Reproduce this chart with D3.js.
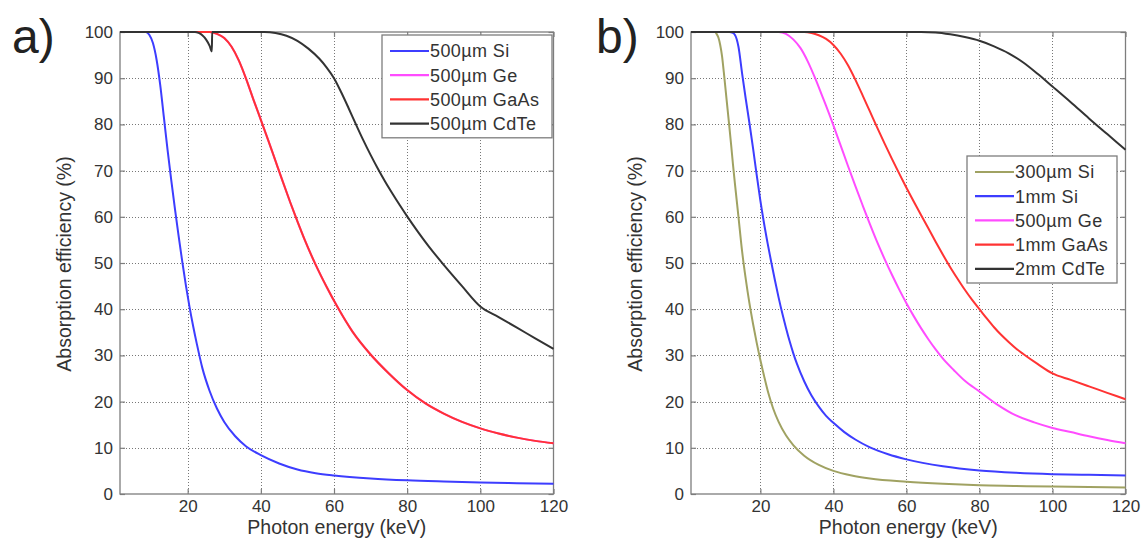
<!doctype html>
<html lang="en">
<head>
<meta charset="utf-8">
<title>Absorption efficiency</title>
<style>
html, body {
	margin: 0;
	padding: 0;
	background: #fff;
}
svg {
	display: block;
	font-family: 'Liberation Sans', Arial, sans-serif;
}
.grid line {
	stroke: #777;
	stroke-width: 1;
	stroke-dasharray: 1, 2;
	shape-rendering: crispEdges;
}
.frame {
	fill: none;
	stroke: #7d7d7d;
	stroke-width: 1.3;
}
.axis path { display: none; }
.axis line { stroke: #7d7d7d; stroke-width: 1.2; }
.axis text { fill: #333; font-size: 17px; }
.title { fill: #333; font-size: 19.5px; }
.panel-label { fill: #222; font-size: 48px; }
.curve {
	fill: none;
	stroke-width: 2;
	stroke-linejoin: round;
}
.legend rect { fill: #fff; stroke: #7d7d7d; stroke-width: 1.3; }
.legend text { fill: #333; font-size: 18px; letter-spacing: 0.4px; }
</style>
</head>
<body>
<div id="container"></div>
<script src="https://cdnjs.cloudflare.com/ajax/libs/d3/7.8.5/d3.min.js"></script>
<script>
/* DATA : [photon energy keV, absorption efficiency %] */

var X_TICKS = [20, 40, 60, 80, 100, 120];
var Y_TICKS = [0, 10, 20, 30, 40, 50, 60, 70, 80, 90, 100];

// panel a)
var si500 = [[1.5,100],[8.5,100],[9.5,99.4],[10.5,97.6],[11.5,94],[12.5,88.5],[13.5,81.5],[14.5,74.5],[15.5,68],[16.5,61.8],[17.5,56],[18.5,50.4],[19.5,45.2],[20.5,40.5],[21.5,36.3],[22.5,32.5],[24,27.3],[26,22.3],[28,18.5],[30,15.6],[33,12.5],[36,10.3],[40,8.4],[45,6.6],[50,5.3],[55,4.5],[60,4],[70,3.35],[80,2.95],[90,2.7],[100,2.5],[110,2.35],[120,2.2]];
var gaas500 = [[1.5,100],[26,100],[28,99.6],[30,98.7],[32,96.8],[34,93.8],[36,89.8],[38,85.3],[40,81],[42,76.6],[44,72.1],[46,67.6],[48,63.2],[50,59],[52,55],[55,49.6],[58,44.8],[61,40.4],[65,35.2],[70,30.2],[75,26.1],[80,22.5],[85,19.6],[90,17.4],[95,15.6],[100,14.2],[105,13.1],[110,12.2],[115,11.5],[120,11]];
var ge500a = gaas500; // Ge lies under GaAs in a), no magenta shows
var cdte500 = [[1.5,100],[22,100],[23,99.8],[24,99.3],[25,98.4],[26,97],[26.6,95.8],[26.7,100],[41,100],[44,99.8],[47,99.2],[50,98.1],[53,96.4],[56,94.2],[58,92.3],[60,90],[62,86.9],[64,83.5],[66,80],[68,76.6],[70,73.4],[72,70.4],[74,67.6],[76,65],[78,62.5],[80,60.1],[83,56.7],[86,53.5],[90,49.6],[95,45],[100,40.6],[105,38.3],[110,36],[115,33.7],[120,31.4]];

// panel b)
var si300 = [[1,100],[7.5,100],[8,99.6],[8.5,98.8],[9,97.2],[9.5,94.8],[10,91.2],[10.5,87.3],[11,83.4],[11.5,79.5],[12,75.5],[12.5,71.3],[13,67.4],[14,60],[15,52.5],[16,46.5],[17,41.3],[18,36.8],[19,32.7],[20,29],[21,25.6],[22.2,21.8],[23.5,18.5],[25,15.6],[27,12.7],[29,10.6],[32,8.3],[36,6.3],[40,5],[45,4],[50,3.35],[60,2.65],[70,2.2],[80,1.9],[90,1.75],[100,1.6],[110,1.5],[120,1.4]];
var si1mm = [[1,100],[11.5,100],[12.5,99.8],[13,99.4],[13.5,98.5],[14,96.8],[15,91],[16,85.5],[17,80.3],[18,74.8],[19,69],[20,63.5],[21,58.6],[22,54.2],[23,50.1],[24,46.2],[25,42.5],[26,39.1],[27,36],[28,33.1],[29,30.5],[30,28.2],[32,24.4],[34,21.3],[36,18.9],[38,16.9],[40,15.4],[43,13.4],[46,11.8],[50,10.1],[55,8.6],[60,7.5],[70,6],[80,5.1],[90,4.6],[100,4.3],[110,4.15],[120,4]];
var ge500b = [[1,100],[25,100],[27,99.6],[29,98.4],[31,96.5],[33,93.6],[35,90],[37,86],[38,84],[40,79.8],[42,75.4],[44,71],[46,66.7],[48,62.5],[50,58.4],[52,54.5],[54,50.9],[56,47.5],[58,44.3],[60,41.3],[62,38.5],[64,35.9],[66,33.5],[68,31.3],[70,29.3],[73,26.8],[76,24.5],[80,22.2],[85,19.3],[90,17],[95,15.5],[100,14.3],[105,13.4],[110,12.5],[115,11.7],[120,11]];
var gaas1mm = [[1,100],[32,100],[34,99.8],[36,99.3],[38,98.5],[40,97.2],[42,95.3],[44,92.8],[46,89.7],[48,86.3],[50,82.8],[52,79.3],[54,75.9],[56,72.6],[58,69.4],[60,66.3],[62,63.3],[64,60.4],[66,57.5],[68,54.6],[70,51.8],[72,49.1],[74,46.6],[76,44.2],[78,42],[80,40],[82,38],[84,36.1],[86,34.4],[88,32.9],[90,31.5],[92,30.3],[96,28.1],[100,26.1],[105,24.7],[110,23.3],[115,21.9],[120,20.5]];
var cdte2mm = [[1,100],[64,100],[68,99.9],[72,99.5],[76,98.9],[80,98.1],[84,96.9],[88,95.4],[92,93.4],[96,90.9],[100,88.2],[105,84.8],[110,81.3],[115,77.9],[120,74.5]];

var LEGEND_A = ['500\u00b5m Si', '500\u00b5m Ge', '500\u00b5m GaAs', '500\u00b5m CdTe'];
var LEGEND_B = ['300\u00b5m Si', '1mm Si', '500\u00b5m Ge', '1mm GaAs', '2mm CdTe'];

(function ($d3) {

	'use strict';

	/* CONST */

	var W = 1147, H = 542;
	var TOP = 32, BOTTOM = 494;
	var TICK = 5;

	var COL = {
		si: '#3d3dff',
		ge: '#ff4cff',
		gaas: '#ff3333',
		cdte: '#333333',
		olive: '#a0a262'
	};

	var panels = [
		{
			label: 'a)', labelX: 12,
			left: 120, right: 553.5, xMin: 1.5,
			yTitleX: 71,
			series: [
				{ v: si500, c: COL.si },
				{ v: ge500a, c: COL.ge },
				{ v: gaas500, c: COL.gaas },
				{ v: cdte500, c: COL.cdte }
			],
			legend: { names: LEGEND_A, colors: [COL.si, COL.ge, COL.gaas, COL.cdte], x: 382, y: 35, w: 170 }
		},
		{
			label: 'b)', labelX: 596,
			left: 691, right: 1125.5, xMin: 1,
			yTitleX: 642,
			series: [
				{ v: si300, c: COL.olive },
				{ v: si1mm, c: COL.si },
				{ v: ge500b, c: COL.ge },
				{ v: gaas1mm, c: COL.gaas },
				{ v: cdte2mm, c: COL.cdte }
			],
			legend: { names: LEGEND_B, colors: [COL.olive, COL.si, COL.ge, COL.gaas, COL.cdte], x: 967, y: 156, w: 150 }
		}
	];

	var svg = $d3.select('#container').append('svg')
		.attr('width', W)
		.attr('height', H);

	/* RENDER */

	var drawLegend = function (g, lg) {
		var rowH = 24.2;
		var box = g.append('g').attr('class', 'legend');
		box.append('rect')
			.attr('x', lg.x)
			.attr('y', lg.y)
			.attr('width', lg.w)
			.attr('height', lg.names.length * rowH + 6);
		var rows = box.selectAll('g.row')
			.data(lg.names)
			.enter().append('g')
			.attr('transform', function (d, i) {
				return 'translate(' + lg.x + ',' + (lg.y + 16 + i * rowH) + ')';
			});
		rows.append('line')
			.attr('x1', 8).attr('x2', 47)
			.attr('y1', 0).attr('y2', 0)
			.attr('stroke', function (d, i) { return lg.colors[i]; })
			.attr('stroke-width', 2.2);
		rows.append('text')
			.attr('x', 48)
			.attr('dy', '0.36em')
			.text(function (d) { return d; });
	};

	var drawPanel = function (p) {
		var g = svg.append('g');
		var x = $d3.scaleLinear().domain([p.xMin, 120]).range([p.left, p.right]);
		var y = $d3.scaleLinear().domain([0, 100]).range([BOTTOM, TOP]);
		var rx = function (d) { return Math.round(x(d)) + 0.5; };
		var ry = function (d) { return Math.round(y(d)) + 0.5; };

		// dotted grid
		var grid = g.append('g').attr('class', 'grid');
		grid.selectAll('line.v')
			.data(X_TICKS.filter(function (d) { return d < 120; }))
			.enter().append('line')
			.attr('x1', rx).attr('x2', rx)
			.attr('y1', TOP).attr('y2', BOTTOM);
		grid.selectAll('line.h')
			.data(Y_TICKS.filter(function (d) { return d > 0 && d < 100; }))
			.enter().append('line')
			.attr('x1', p.left).attr('x2', p.right)
			.attr('y1', ry).attr('y2', ry);

		// ticks on all four sides, pointing in
		g.append('g').attr('class', 'axis')
			.attr('transform', 'translate(0,' + BOTTOM + ')')
			.call($d3.axisBottom(x).tickValues(X_TICKS).tickSize(-TICK).tickPadding(6));
		g.append('g').attr('class', 'axis')
			.attr('transform', 'translate(0,' + TOP + ')')
			.call($d3.axisTop(x).tickValues(X_TICKS).tickSize(-TICK).tickFormat(''));
		g.append('g').attr('class', 'axis')
			.attr('transform', 'translate(' + p.left + ',0)')
			.call($d3.axisLeft(y).tickValues(Y_TICKS).tickSize(-TICK).tickPadding(7));
		g.append('g').attr('class', 'axis')
			.attr('transform', 'translate(' + p.right + ',0)')
			.call($d3.axisRight(y).tickValues(Y_TICKS).tickSize(-TICK).tickFormat(''));

		g.append('rect').attr('class', 'frame')
			.attr('x', p.left).attr('y', TOP)
			.attr('width', p.right - p.left)
			.attr('height', BOTTOM - TOP);

		var line = $d3.line()
			.x(function (d) { return x(d[0]); })
			.y(function (d) { return y(d[1]); })
			.curve($d3.curveMonotoneX);

		g.selectAll('path.curve')
			.data(p.series)
			.enter().append('path')
			.attr('class', 'curve')
			.attr('stroke', function (d) { return d.c; })
			.attr('d', function (d) { return line(d.v); });

		drawLegend(g, p.legend);

		// titles
		g.append('text').attr('class', 'title')
			.attr('x', (p.left + p.right) / 2)
			.attr('y', 534)
			.attr('text-anchor', 'middle')
			.text('Photon energy (keV)');
		g.append('text').attr('class', 'title')
			.attr('transform', 'translate(' + p.yTitleX + ',' + ((TOP + BOTTOM) / 2 + 1) + ') rotate(-90)')
			.attr('text-anchor', 'middle')
			.text('Absorption efficiency (%)');
		g.append('text').attr('class', 'panel-label')
			.attr('x', p.labelX)
			.attr('y', 53)
			.text(p.label);
	};

	panels.forEach(drawPanel);

})(window.d3);
</script>
</body>
</html>
